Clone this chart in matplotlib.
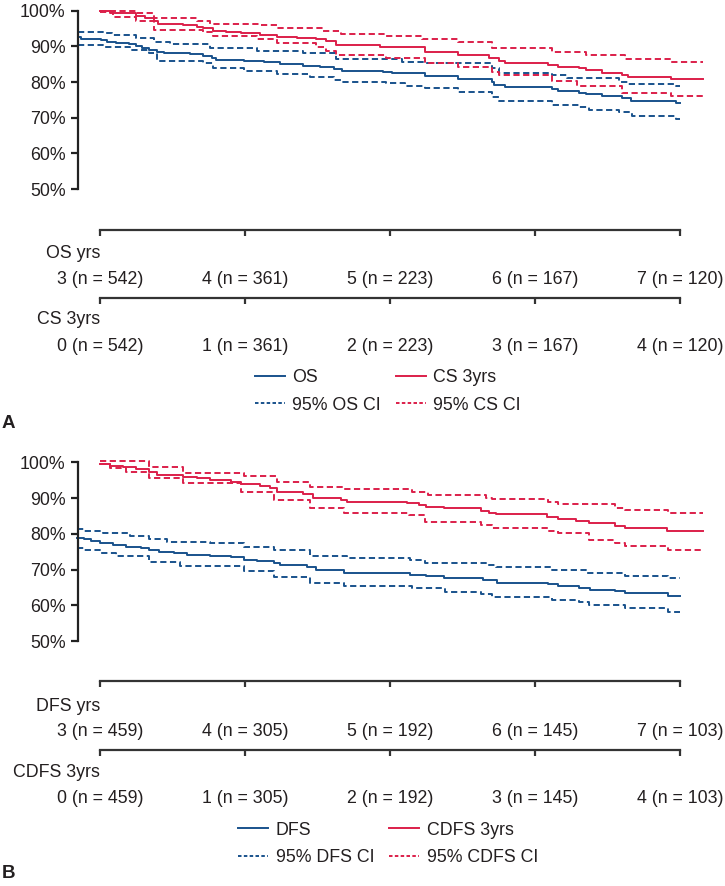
import numpy as np
import matplotlib
matplotlib.use("Agg")
import matplotlib.pyplot as plt
from matplotlib.lines import Line2D
from matplotlib.transforms import blended_transform_factory


# ---- panel A : OS (years since surgery) and CS given 3 yrs (years since yr 3)
os_t = [2.85, 2.87, 3.01, 3.05, 3.11, 3.20, 3.25, 3.29, 3.34, 3.39, 3.44, 3.62, 3.71,
        3.77, 3.80, 3.99, 4.13, 4.24, 4.40, 4.52, 4.61, 4.67, 4.95, 5.01, 5.24, 5.47,
        5.70, 5.72, 5.79, 6.12, 6.16, 6.30, 6.35, 6.46, 6.60, 6.66, 6.97, 7.00]
os_s = [92.7, 92.1, 91.8, 91.3, 91.0, 90.7, 90.2, 89.6, 89.0, 88.5, 88.2, 87.9, 87.4,
        86.8, 86.2, 85.9, 85.5, 85.1, 84.6, 84.1, 83.7, 83.1, 82.9, 82.6, 81.7, 80.8,
        80.1, 79.2, 78.5, 78.0, 77.6, 77.0, 76.7, 76.1, 75.5, 74.8, 74.2, 74.2]
os_hi_t = [2.85, 3.02, 3.08, 3.25, 3.37, 3.48, 3.76, 4.08, 4.40, 4.63, 5.08, 5.24, 5.70,
           5.75, 6.12, 6.22, 6.58, 6.64, 6.97, 7.00]
os_hi_s = [94.1, 93.7, 93.2, 92.3, 91.3, 90.8, 89.4, 88.8, 88.1, 86.5, 85.7, 85.3, 83.9,
           82.6, 82.0, 81.2, 80.1, 79.5, 79.0, 79.0]
os_lo_t = [2.85, 3.02, 3.21, 3.34, 3.39, 3.71, 3.78, 3.99, 4.22, 4.45, 4.61, 4.66, 4.97,
           5.10, 5.24, 5.47, 5.70, 5.75, 6.12, 6.30, 6.37, 6.58, 6.67, 6.97, 7.00]
os_lo_s = [90.4, 89.7, 89.0, 88.1, 85.9, 85.2, 83.8, 83.2, 82.3, 81.5, 80.6, 79.9, 79.6,
           78.9, 78.3, 77.1, 75.7, 74.8, 73.6, 72.9, 72.2, 71.5, 70.4, 69.7, 69.7]

cs_t = [0.0, 0.07, 0.25, 0.31, 0.37, 0.40, 0.57, 0.67, 0.71, 0.78, 0.87, 0.97, 1.10,
        1.22, 1.36, 1.49, 1.56, 1.63, 1.93, 2.24, 2.47, 2.68, 2.75, 2.79, 3.09, 3.16,
        3.30, 3.35, 3.46, 3.60, 3.64, 3.94, 4.16]
cs_s = [100.0, 99.3, 98.5, 97.9, 97.2, 96.3, 96.0, 95.5, 95.1, 94.3, 93.9, 93.7, 93.2,
        92.7, 92.4, 92.0, 91.4, 90.4, 89.8, 88.5, 87.7, 86.7, 86.0, 85.4, 84.8, 84.3,
        83.9, 83.4, 82.6, 82.0, 81.3, 80.8, 80.8]
cs_hi_t = [0.0, 0.25, 0.37, 0.67, 0.76, 1.10, 1.22, 1.54, 1.66, 1.97, 2.22, 2.47, 2.70,
           3.12, 3.35, 3.62, 3.94, 4.16]
cs_hi_s = [100.0, 99.3, 97.9, 97.2, 96.3, 96.0, 95.1, 94.4, 93.5, 93.0, 92.0, 91.3, 89.5,
           88.5, 87.6, 86.4, 85.7, 85.7]
cs_lo_t = [0.0, 0.09, 0.25, 0.37, 0.71, 0.78, 1.08, 1.22, 1.49, 1.56, 1.63, 1.97, 2.24,
           2.47, 2.70, 2.75, 3.12, 3.29, 3.60, 3.94, 4.16]
cs_lo_s = [99.7, 98.3, 97.2, 94.6, 93.9, 93.0, 92.0, 91.0, 89.9, 88.8, 87.6, 86.7, 85.4,
           84.3, 82.9, 82.0, 80.3, 79.0, 76.9, 76.0, 76.0]

os_years = [3, 4, 5, 6, 7]
os_n = [542, 361, 223, 167, 120]
cs_years = [0, 1, 2, 3, 4]
cs_n = [542, 361, 223, 167, 120]

# ---- panel B : DFS and CDFS given 3 yrs
dfs_t = [2.84, 2.89, 2.94, 3.00, 3.09, 3.18, 3.28, 3.34, 3.41, 3.51, 3.60, 3.76, 3.90,
         3.99, 4.08, 4.20, 4.24, 4.43, 4.49, 4.68, 5.14, 5.25, 5.37, 5.64, 5.74, 6.09,
         6.16, 6.30, 6.38, 6.55, 6.62, 6.92, 7.00]
dfs_s = [78.7, 78.4, 78.1, 77.5, 76.8, 76.4, 75.9, 75.4, 75.0, 74.5, 74.0, 73.8, 73.4,
         72.8, 72.5, 71.7, 71.2, 70.6, 69.8, 69.1, 68.6, 68.2, 67.7, 67.0, 66.3, 65.9,
         65.4, 64.9, 64.4, 63.9, 63.5, 62.6, 62.6]
dfs_hi_t = [2.84, 2.89, 3.02, 3.21, 3.34, 3.46, 3.76, 3.99, 4.20, 4.45, 4.70, 5.14, 5.24,
            5.66, 5.73, 6.12, 6.35, 6.62, 6.92, 7.00]
dfs_hi_s = [81.3, 80.8, 80.3, 79.4, 78.5, 77.8, 77.3, 76.4, 75.4, 73.9, 73.1, 72.6, 71.9,
            71.2, 70.6, 70.0, 69.1, 68.2, 67.7, 67.7]
dfs_lo_t = [2.84, 2.89, 3.00, 3.11, 3.34, 3.55, 3.99, 4.20, 4.45, 4.68, 5.15, 5.38, 5.63,
            5.70, 6.12, 6.30, 6.37, 6.62, 6.92, 7.00]
dfs_lo_s = [76.1, 75.6, 74.7, 73.9, 72.2, 71.0, 69.6, 68.0, 66.1, 65.4, 64.7, 63.8, 63.1,
            62.4, 61.4, 60.8, 60.2, 59.1, 58.2, 58.2]

cdfs_t = [0.0, 0.07, 0.16, 0.25, 0.34, 0.39, 0.57, 0.67, 0.76, 0.90, 0.97, 1.10, 1.17,
          1.22, 1.40, 1.47, 1.66, 1.70, 2.12, 2.20, 2.25, 2.37, 2.63, 2.68, 2.73, 3.08,
          3.16, 3.28, 3.37, 3.55, 3.62, 3.91, 4.16]
cdfs_s = [99.6, 99.0, 98.6, 98.0, 97.4, 96.5, 96.0, 95.5, 95.1, 94.6, 93.9, 93.4, 92.7,
          91.8, 91.1, 89.9, 89.4, 89.0, 88.5, 88.0, 87.6, 87.1, 86.5, 85.9, 85.5, 84.8,
          84.2, 83.6, 82.9, 82.2, 81.6, 80.8, 80.8]
cdfs_hi_t = [0.0, 0.34, 0.57, 0.99, 1.22, 1.45, 1.68, 2.15, 2.26, 2.66, 2.70, 3.09, 3.16,
             3.55, 3.62, 3.92, 4.16]
cdfs_hi_s = [100.3, 98.8, 96.9, 96.1, 94.6, 93.1, 92.4, 91.8, 90.8, 89.9, 89.6, 89.0,
             88.2, 87.1, 86.6, 85.9, 85.9]
cdfs_lo_t = [0.0, 0.07, 0.18, 0.34, 0.57, 0.97, 1.20, 1.45, 1.68, 2.13, 2.24, 2.63, 2.70,
             3.09, 3.16, 3.37, 3.55, 3.62, 3.92, 4.16]
cdfs_lo_s = [99.5, 98.3, 97.4, 95.5, 94.1, 91.8, 89.4, 87.1, 85.9, 85.2, 83.4, 82.4, 81.5,
             80.8, 80.1, 78.2, 77.3, 76.6, 75.6, 75.6]

dfs_years = [3, 4, 5, 6, 7]
dfs_n = [459, 305, 192, 145, 103]
cdfs_years = [0, 1, 2, 3, 4]
cdfs_n = [459, 305, 192, 145, 103]

COND_FROM = 3  # conditional curves start at year 3

plt.rcParams["font.family"] = ["Liberation Sans", "DejaVu Sans"]

BLUE = "#19528c"
RED = "#dc1f4a"
INK = "#231f20"
W, H = 725, 886
LEFT, RIGHT = 78, 712
X0, X1 = 2.848, 7.22
FS = 12.8

fig = plt.figure(figsize=(W / 100, H / 100), dpi=100)


def fy(py):
    return 1 - py / H


def risk_row(ax_top, line_y, title_y, num_y, title, years, n, shift):
    rax = fig.add_axes([LEFT / W, fy(line_y), (RIGHT - LEFT) / W, 0.0001])
    rax.set_xlim(X0, X1)
    rax.patch.set_visible(False)
    for side in ["left", "right", "top"]:
        rax.spines[side].set_visible(False)
    rax.spines["bottom"].set_bounds(years[0] + shift, years[-1] + shift)
    rax.spines["bottom"].set_linewidth(1.6)
    rax.spines["bottom"].set_color("#333333")
    rax.set_yticks([])
    rax.set_xticks([y + shift for y in years])
    rax.tick_params(axis="x", direction="out", length=4.5, width=1.6, color="#333333",
                    labelbottom=False)
    tr = blended_transform_factory(rax.transData, fig.transFigure)
    rax.text(years[0] + shift, fy(title_y), title, transform=tr, ha="right", va="center",
             fontsize=FS, color=INK)
    for y, k in zip(years, n):
        rax.text(y + shift, fy(num_y), f"{y} (n = {k})", transform=tr, ha="center",
                 va="center", fontsize=FS, color=INK)


def panel(top, bottom, curves, rows, labels, leg_y, letter, letter_y):
    ax = fig.add_axes([LEFT / W, fy(bottom), (RIGHT - LEFT) / W, (bottom - top) / H])
    ax.set_xlim(X0, X1)
    ax.set_ylim(50, 100)
    for side in ["right", "top", "bottom"]:
        ax.spines[side].set_visible(False)
    ax.spines["left"].set_linewidth(1.6)
    ax.spines["left"].set_color("#222222")
    ax.set_xticks([])
    ax.set_yticks(range(50, 101, 10))
    ax.set_yticklabels([f"{v}%" for v in range(50, 101, 10)])
    ax.tick_params(axis="y", length=5, width=1.6, color="#222222", pad=4,
                   labelsize=FS, labelcolor=INK)
    ax.patch.set_visible(False)

    for t, s, color, ls, shift in curves:
        ax.step(np.array(t) + shift, s, where="post", color=color, lw=1.4,
                linestyle=ls, clip_on=False)

    for r in rows:
        risk_row(ax, *r)

    leg_dash = (0, (1.8, 1.2))
    handles = [Line2D([], [], color=BLUE, lw=1.4),
               Line2D([], [], color=BLUE, lw=1.4, linestyle=leg_dash),
               Line2D([], [], color=RED, lw=1.4),
               Line2D([], [], color=RED, lw=1.4, linestyle=leg_dash)]
    fig.legend(handles, labels, ncol=2, loc="center", bbox_to_anchor=(388 / W, fy(leg_y)),
               frameon=False, fontsize=FS, handlelength=1.7, handletextpad=0.4,
               columnspacing=0.85, labelspacing=0.58, borderpad=0, labelcolor=INK)
    fig.text(2 / W, fy(letter_y), letter, fontsize=13.5, fontweight="bold", color=INK,
             va="center", ha="left")


dash = (0, (3.2, 1.8))
panel(10.7, 189,
      [(os_hi_t, os_hi_s, BLUE, dash, 0), (os_lo_t, os_lo_s, BLUE, dash, 0),
       (cs_hi_t, cs_hi_s, RED, dash, COND_FROM), (cs_lo_t, cs_lo_s, RED, dash, COND_FROM),
       (os_t, os_s, BLUE, "-", 0), (cs_t, cs_s, RED, "-", COND_FROM)],
      [(229.5, 253, 280, "OS yrs", os_years, os_n, 0),
       (298.5, 320, 346.5, "CS 3yrs", cs_years, cs_n, COND_FROM)],
      ["OS", "95% OS CI", "CS 3yrs", "95% CS CI"], 391.5, "A", 423)

panel(462.3, 641,
      [(dfs_hi_t, dfs_hi_s, BLUE, dash, 0), (dfs_lo_t, dfs_lo_s, BLUE, dash, 0),
       (cdfs_hi_t, cdfs_hi_s, RED, dash, COND_FROM),
       (cdfs_lo_t, cdfs_lo_s, RED, dash, COND_FROM),
       (dfs_t, dfs_s, BLUE, "-", 0), (cdfs_t, cdfs_s, RED, "-", COND_FROM)],
      [(681, 706.5, 732, "DFS yrs", dfs_years, dfs_n, 0),
       (750, 772.5, 798.5, "CDFS 3yrs", cdfs_years, cdfs_n, COND_FROM)],
      ["DFS", "95% DFS CI", "CDFS 3yrs", "95% CDFS CI"], 843.7, "B", 873.5)

fig.savefig("out.png", dpi=100)
